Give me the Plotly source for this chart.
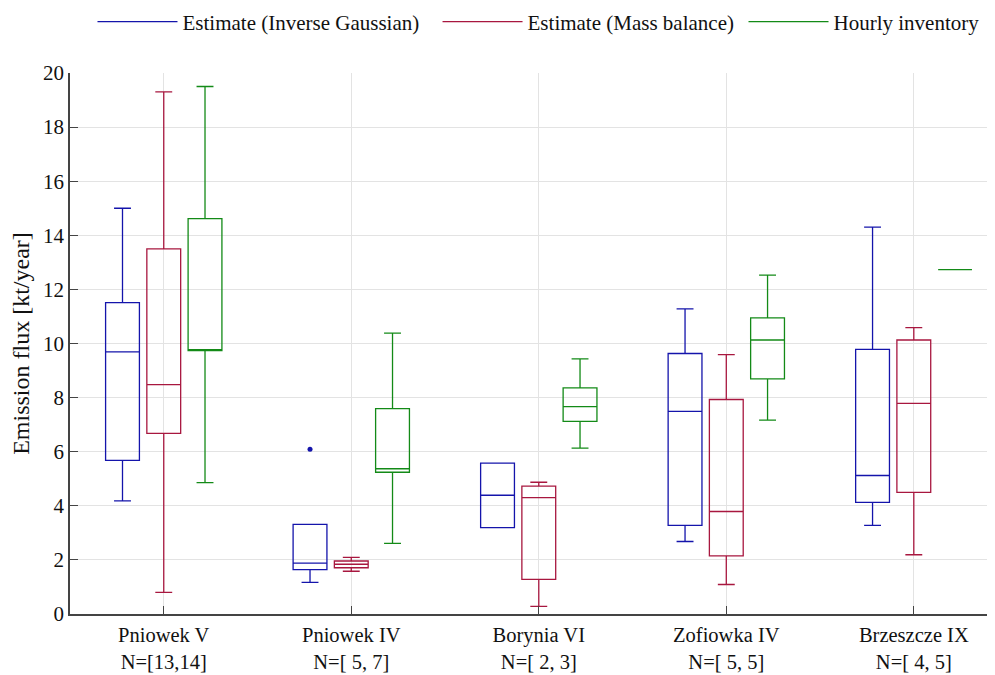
import plotly.graph_objects as go

categories = ["Pniowek V<br>N=[13,14]", "Pniowek IV<br>N=[ 5, 7]", "Borynia VI<br>N=[ 2, 3]",
              "Zofiowka IV<br>N=[ 5, 5]", "Brzeszcze IX<br>N=[ 4, 5]"]

# Estimate (Inverse Gaussian)
ig_low = [4.18, 1.17, 3.19, 2.68, 3.28]
ig_q1 = [5.68, 1.64, 3.19, 3.28, 4.13]
ig_med = [9.69, 1.88, 4.39, 7.49, 5.12]
ig_q3 = [11.51, 3.31, 5.58, 9.63, 9.78]
ig_high = [15.0, 3.31, 5.58, 11.28, 14.30]
ig_outlier_cats = ["Pniowek IV<br>N=[ 5, 7]"]
ig_outlier_vals = [6.09]

# Estimate (Mass balance)
mb_low = [0.80, 1.58, 0.28, 1.09, 2.19]
mb_q1 = [6.68, 1.71, 1.28, 2.15, 4.50]
mb_med = [8.48, 1.84, 4.30, 3.79, 7.79]
mb_q3 = [13.50, 1.96, 4.73, 7.93, 10.13]
mb_high = [19.30, 2.09, 4.87, 9.59, 10.59]

# Hourly inventory
hi_low = [4.86, 2.61, 6.13, 7.17, 12.73]
hi_q1 = [9.74, 5.24, 7.12, 8.69, 12.73]
hi_med = [9.76, 5.37, 7.67, 10.13, 12.73]
hi_q3 = [14.62, 7.59, 8.36, 10.95, 12.73]
hi_high = [19.50, 10.38, 9.43, 12.53, 12.73]

series_names = ["Estimate (Inverse Gaussian)", "Estimate (Mass balance)", "Hourly inventory"]
colors = ["#1414ab", "#a8173f", "#138a17"]

y_ticks = list(range(0, 21, 2))

fig = go.Figure()

stats = [
    (ig_low, ig_q1, ig_med, ig_q3, ig_high),
    (mb_low, mb_q1, mb_med, mb_q3, mb_high),
    (hi_low, hi_q1, hi_med, hi_q3, hi_high),
]

for k, (lo, q1, med, q3, hi) in enumerate(stats):
    fig.add_trace(go.Box(
        x=categories, lowerfence=lo, q1=q1, median=med, q3=q3, upperfence=hi,
        name=series_names[k], offsetgroup=str(k), boxpoints=False,
        line=dict(color=colors[k], width=1.3),
        fillcolor="rgba(0,0,0,0)", whiskerwidth=0.5,
        showlegend=False, hoverinfo="skip"))

# outlier of the Inverse Gaussian estimate, drawn in the same offset slot
fig.add_trace(go.Box(
    x=ig_outlier_cats, y=ig_outlier_vals, offsetgroup="0",
    boxpoints="all", pointpos=0, jitter=0,
    marker=dict(color=colors[0], size=5),
    line=dict(color="rgba(0,0,0,0)", width=0), fillcolor="rgba(0,0,0,0)",
    showlegend=False, hoverinfo="skip"))

legend_ids = ["legend", "legend2", "legend3"]
for k in range(3):
    fig.add_trace(go.Scatter(x=[None], y=[None], mode="lines", name=series_names[k],
                             legend=legend_ids[k],
                             line=dict(color=colors[k], width=1.3)))

legend_x = [0.0856, 0.4352, 0.7452]
legend_common = dict(orientation="h", xref="container", yref="container",
                     xanchor="left", y=0.979, yanchor="middle", itemwidth=80,
                     bgcolor="rgba(255,255,255,0)",
                     font=dict(size=21, family="Liberation Serif", color="#111111"))

fig.update_layout(
    width=987, height=667,
    margin=dict(l=62, r=0, t=65, b=61),
    paper_bgcolor="white", plot_bgcolor="white",
    boxmode="group", boxgap=0.34, boxgroupgap=0.18,
    font=dict(family="Liberation Serif", color="#222222"),
    legend=dict(x=legend_x[0], **legend_common),
    legend2=dict(x=legend_x[1], **legend_common),
    legend3=dict(x=legend_x[2], **legend_common),
    xaxis=dict(type="category", categoryorder="array", categoryarray=categories,
               range=[-0.5, 4.433], showgrid=True, gridcolor="#e3e3e3",
               showline=True, linecolor="#444444", linewidth=1.5,
               ticks="inside", ticklen=8, tickcolor="#444444", automargin=False,
               ticklabelstandoff=2,
               tickfont=dict(size=20.5, family="Liberation Serif", color="#111111"),
               zeroline=False),
    yaxis=dict(range=[0, 20], tickvals=y_ticks, showgrid=True, gridcolor="#e3e3e3",
               showline=True, linecolor="#444444", linewidth=1.5,
               ticks="inside", ticklen=8, tickcolor="#444444", automargin=False,
               tickfont=dict(size=21, family="Liberation Serif", color="#111111"),
               title=dict(text="Emission flux [kt/year]", standoff=8,
                          font=dict(size=24, family="Liberation Serif", color="#111111")),
               zeroline=False),
)

fig.write_html("out.html")
